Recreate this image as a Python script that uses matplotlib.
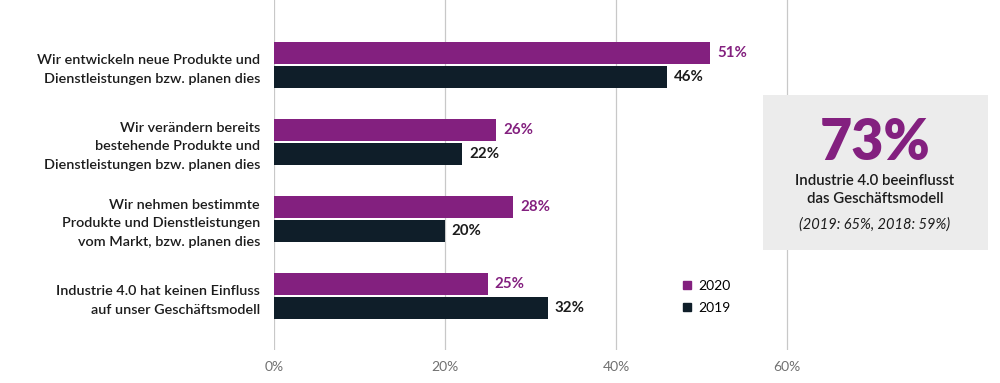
import numpy as np
import matplotlib
matplotlib.use("Agg")
import matplotlib.pyplot as plt
from matplotlib.patches import Rectangle
from matplotlib.lines import Line2D

plt.rcParams['font.family'] = ['Lato', 'DejaVu Sans']

# Data
categories = [
    "Wir entwickeln neue Produkte und\nDienstleistungen bzw. planen dies",
    "Wir verändern bereits\nbestehende Produkte und\nDienstleistungen bzw. planen dies",
    "Wir nehmen bestimmte\nProdukte und Dienstleistungen\nvom Markt, bzw. planen dies",
    "Industrie 4.0 hat keinen Einfluss\nauf unser Geschäftsmodell",
]
values_2020 = [51, 26, 28, 25]
values_2019 = [46, 22, 20, 32]
series_labels = ["2020", "2019"]
xticks = [0, 20, 40, 60]

purple = "#83207f"
dark = "#0f1e29"
text_col = "#1c1c1c"

fig = plt.figure(figsize=(10, 3.83), dpi=100)
ax = fig.add_axes([0.274, 1 - 350 / 383, 0.726, 350 / 383])

y = np.arange(len(categories))
h = 0.29
off = 0.155
ax.barh(y - off, values_2020, height=h, color=purple, zorder=2)
ax.barh(y + off, values_2019, height=h, color=dark, zorder=2)

for yi, v in zip(y, values_2020):
    ax.text(v + 0.8, yi - off, f"{v}%", va="center", ha="left",
            color=purple, fontweight="bold", fontsize=10.8)
for yi, v in zip(y, values_2019):
    ax.text(v + 0.8, yi + off, f"{v}%", va="center", ha="left",
            color=text_col, fontweight="bold", fontsize=10.8)

ax.set_xlim(0, 726 / 8.55)
ax.set_ylim(3.70, -0.844)
ax.set_xticks(xticks)
ax.set_xticklabels([f"{t}%" for t in xticks], color="#707070", fontsize=10)
ax.tick_params(axis="x", length=0, pad=8)
ax.set_yticks(y)
ax.set_yticklabels(categories, fontsize=10.4, color=text_col, linespacing=1.65,
                   fontweight="semibold")
ax.tick_params(axis="y", length=0, pad=10)
ax.grid(axis="x", color="#c8c8c8", linewidth=0.9, zorder=0)
for s in ax.spines.values():
    s.set_visible(False)

# legend
handles = [Line2D([], [], marker="s", linestyle="", color=purple, markersize=6),
           Line2D([], [], marker="s", linestyle="", color=dark, markersize=6)]
fig.legend(handles, series_labels, loc="upper left",
           bbox_to_anchor=(0.668, 1 - 267 / 383), frameon=False, fontsize=10,
           handletextpad=0.3, labelspacing=0.75, handlelength=1.0)

# info box
box = Rectangle((0.763, 1 - 250 / 383), 0.225, 155 / 383, transform=fig.transFigure,
                facecolor="#ececec", edgecolor="none", zorder=5)
fig.add_artist(box)
cx = 0.875
fig.text(cx, 1 - 143 / 383, "73%", ha="center", va="center", color=purple,
         fontsize=40, fontweight="heavy", zorder=6)
fig.text(cx, 1 - 190 / 383, "Industrie 4.0 beeinflusst\ndas Geschäftsmodell",
         ha="center", va="center", color=text_col, fontsize=10.8,
         linespacing=1.3, fontweight="semibold", zorder=6)
fig.text(cx, 1 - 225 / 383, "(2019: 65%, 2018: 59%)", ha="center", va="center",
         color=text_col, fontsize=10.5, style="italic", zorder=6)

fig.savefig("out.png", dpi=100)
